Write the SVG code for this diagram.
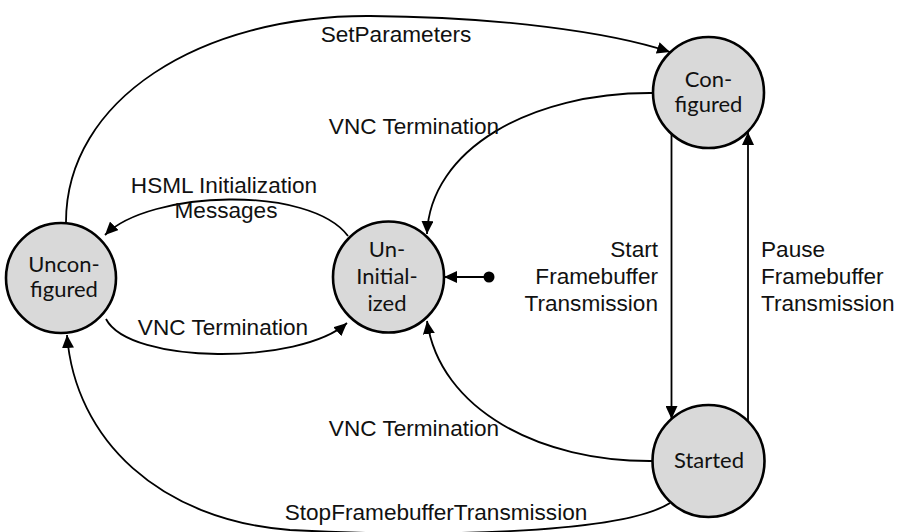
<svg xmlns="http://www.w3.org/2000/svg" width="901" height="532" viewBox="0 0 901 532">
<style>
.state{fill:#d9d9d9;stroke:#000;stroke-width:2.6}
.st{font-family:Lato,"Open Sans",sans-serif;font-size:22px;fill:#111;text-anchor:middle}
.edge{fill:none;stroke:#000;stroke-width:1.8;marker-end:url(#ah)}
.lbl{font-family:"Liberation Sans",Arial,sans-serif;font-size:22.6px;fill:#111}
.mid{text-anchor:middle}
.end{text-anchor:end}
</style>
<defs>
<marker id="ah" markerUnits="userSpaceOnUse" markerWidth="14" markerHeight="12" refX="13" refY="6" orient="auto">
<path d="M0,0 L13,6 L0,12 z" fill="#000"/>
</marker>
</defs>
<rect width="901" height="532" fill="#fff"/>
<g id="connectors">
<path class="edge" d="M66 222 C66 100 200 15 370 16 C500 17 610 32 670 52"/>
<path class="edge" d="M348 236 C310 185 150 190 105 235"/>
<path class="edge" d="M106 319 C130 365 300 365 347 323"/>
<path class="edge" d="M653 93 C530 92 430 150 427 234"/>
<path class="edge" d="M653 461 C540 462 440 410 427 321"/>
<path class="edge" d="M671.5 134 L671.5 419"/>
<path class="edge" d="M748 421 L748 132"/>
<path class="edge" d="M670 503 C620 535 420 537 290 530 C160 520 75 440 67 335"/>
<path class="edge" d="M489 277 L444 277"/>
<circle cx="489" cy="277" r="5.5" fill="#000"/>
</g>
<g id="labels">
<text class="lbl mid" x="396" y="42">SetParameters</text>
<text class="lbl mid" x="414" y="134">VNC Termination</text>
<text class="lbl mid" x="224" y="193">HSML Initialization</text>
<text class="lbl mid" x="226" y="218">Messages</text>
<text class="lbl mid" x="223" y="335">VNC Termination</text>
<text class="lbl mid" x="414" y="436">VNC Termination</text>
<text class="lbl mid" x="436" y="520">StopFramebufferTransmission</text>
<text class="lbl end" x="658" y="257">Start</text>
<text class="lbl end" x="658" y="284">Framebuffer</text>
<text class="lbl end" x="658" y="311">Transmission</text>
<text class="lbl" x="761" y="257">Pause</text>
<text class="lbl" x="761" y="284">Framebuffer</text>
<text class="lbl" x="761" y="311">Transmission</text>
</g>
<g id="unconfigured">
<circle class="state" cx="61" cy="278" r="55"/>
<text class="st" x="64" y="272">Uncon-</text>
<text class="st" x="64" y="297">figured</text>
</g>
<g id="uninitialized">
<circle class="state" cx="388.5" cy="277" r="55.5"/>
<text class="st" x="387" y="257">Un-</text>
<text class="st" x="387" y="284">Initial-</text>
<text class="st" x="387" y="311">ized</text>
</g>
<g id="configured">
<circle class="state" cx="708.5" cy="92.5" r="55.5"/>
<text class="st" x="708.5" y="87">Con-</text>
<text class="st" x="708.5" y="112">figured</text>
</g>
<g id="started">
<circle class="state" cx="708.5" cy="461" r="56"/>
<text class="st" x="709" y="468">Started</text>
</g>
</svg>
